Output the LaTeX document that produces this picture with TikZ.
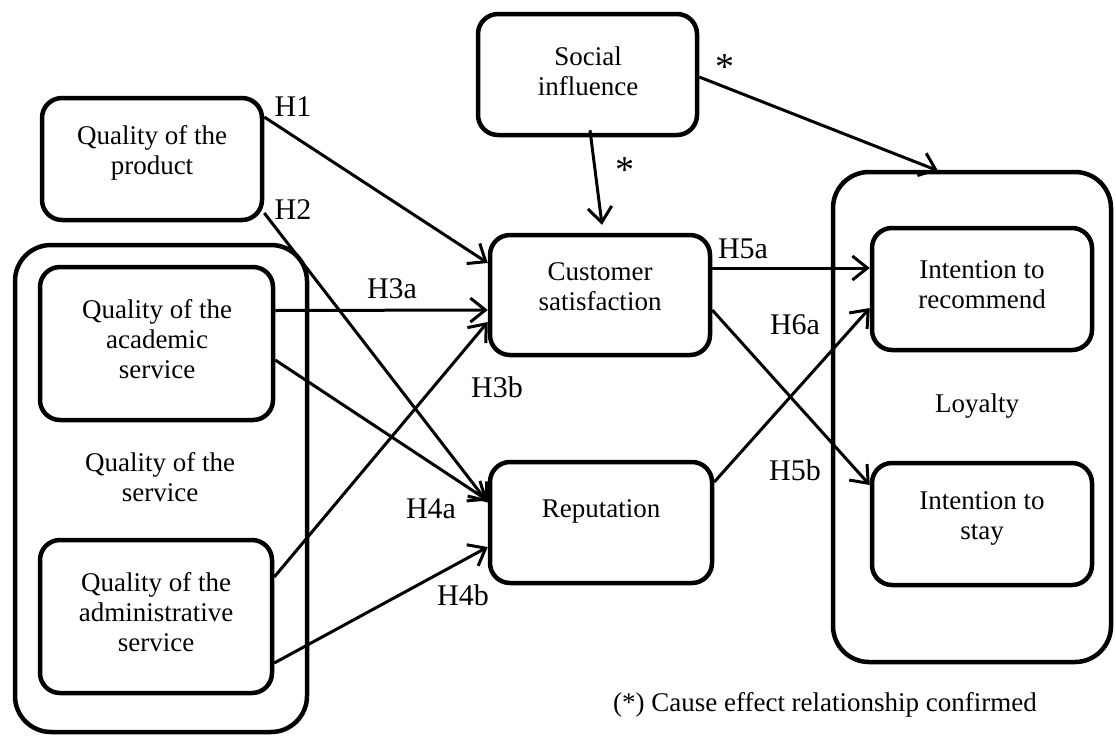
\documentclass[tikz,border=0pt]{standalone}
\usepackage{fontspec}
\setmainfont{Liberation Serif}
\usetikzlibrary{arrows.meta}
\begin{document}
\begin{tikzpicture}[x=1pt,y=-1pt,
  box/.style={draw, line width=4.5pt, rounded corners=20pt, inner sep=0pt},
  grp/.style={draw, line width=4.5pt, rounded corners=36pt, inner sep=0pt},
  txt/.style={font=\fontsize{27}{30}\selectfont, align=center, inner sep=0pt},
  hl/.style={font=\fontsize{30}{36}\selectfont, inner sep=0pt},
  star/.style={font=\fontsize{38}{40}\selectfont, inner sep=0pt},
  arr/.style={line width=3pt, -{Straight Barb[length=15pt,width=24pt]}}]
\useasboundingbox (0,0) rectangle (1116,737);
% groups
\node[grp, minimum width=292pt, minimum height=487pt] (serv) at (161,488.5) {};
\node[grp, minimum width=278pt, minimum height=490pt] (loyal) at (972,417) {};
% boxes
\node[box, minimum width=220pt, minimum height=122pt] (prod) at (152,159) {};
\node[box, minimum width=233pt, minimum height=153pt] (acad) at (156.5,343.5) {};
\node[box, minimum width=232pt, minimum height=153pt] (admin) at (156,616.5) {};
\node[box, minimum width=219pt, minimum height=121pt] (social) at (587.5,74.5) {};
\node[box, minimum width=220pt, minimum height=120pt] (cs) at (600,295) {};
\node[box, minimum width=222pt, minimum height=121pt] (rep) at (601,522.5) {};
\node[box, minimum width=220pt, minimum height=122pt] (rec) at (982,289) {};
\node[box, minimum width=220pt, minimum height=122pt] (stay) at (982,524) {};
% texts
\node[txt] (prodT) at (152,153) {Quality of the\\product};
\node[txt] (acadT) at (157,339) {Quality of the\\academic\\service};
\node[txt] (servT) at (160,477) {Quality of the\\service};
\node[txt] (adminT) at (156,612) {Quality of the\\administrative\\service};
\node[txt] (socialT) at (588,71) {Social\\influence};
\node[txt] (csT) at (600,287) {Customer\\satisfaction};
\node[txt] (repT) at (601,511) {Reputation};
\node[txt] (recT) at (982,285) {Intention to\\recommend};
\node[txt] (stayT) at (982,518) {Intention to\\stay};
\node[txt] (loyT) at (977,406) {Loyalty};
\node[txt] (foot) at (825,705) {(*) Cause effect relationship confirmed};
% arrows
\draw[arr] ([yshift=42pt]prod.east) -- ([yshift=32pt]cs.west);
\draw[arr] ([yshift=-54pt]prod.east) -- ([yshift=20pt]rep.west);
\draw[arr] ([yshift=33pt]acad.east) -- ([yshift=-15pt]cs.west);
\draw[arr] ([yshift=-16.5pt]acad.east) -- ([yshift=22pt]rep.west);
\draw[arr] ([yshift=39.5pt]admin.east) -- ([yshift=-27pt]cs.west);
\draw[arr] ([yshift=-46.5pt]admin.east) -- ([yshift=-24.5pt]rep.west);
\draw[arr] ([xshift=2.5pt,yshift=7pt]social.south) -- ([xshift=2pt,yshift=8pt]cs.north);
\draw[arr] ([yshift=-2.5pt]social.east) -- ([xshift=-34pt,yshift=-1pt]loyal.north);
\draw[arr] ([yshift=27pt]cs.east) -- ([yshift=21pt]rec.west);
\draw[arr] ([yshift=-15pt]cs.east) -- ([yshift=39pt]stay.west);
\draw[arr] ([yshift=40.5pt]rep.east) -- ([yshift=-19pt]rec.west);
% labels
\node[hl] (h1) at (293,107) {H1};
\node[hl] (h2) at (293,210) {H2};
\node[hl] (h3a) at (392,289) {H3a};
\node[hl] (h3b) at (497,387) {H3b};
\node[hl] (h4a) at (431,509) {H4a};
\node[hl] (h4b) at (463,595) {H4b};
\node[hl] (h5a) at (743,249) {H5a};
\node[hl] (h6a) at (795,325) {H6a};
\node[hl] (h5b) at (795,470) {H5b};
\node[star] (st1) at (725,67) {*};
\node[star] (st2) at (625,170) {*};
\end{tikzpicture}
\end{document}
